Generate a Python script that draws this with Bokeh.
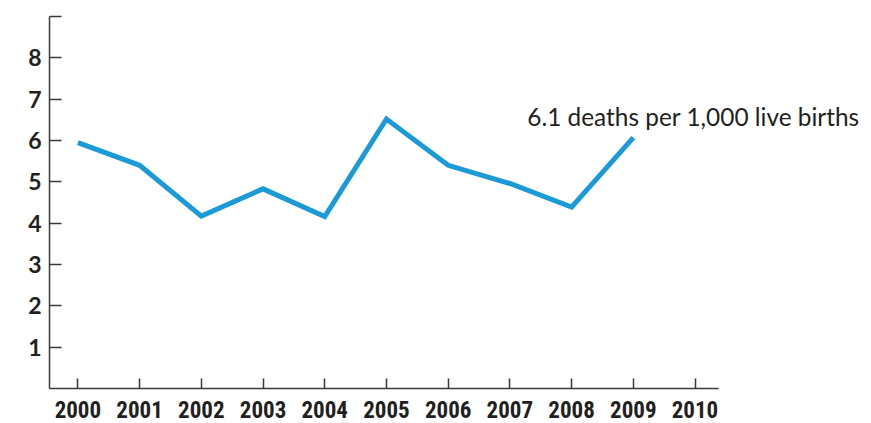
from bokeh.plotting import figure
from bokeh.models import Range1d, FixedTicker, Label
from bokeh.embed import file_html
from bokeh.resources import INLINE

years = [2000, 2001, 2002, 2003, 2004, 2005, 2006, 2007, 2008, 2009]
rates = [5.95, 5.40, 4.17, 4.83, 4.16, 6.52, 5.40, 4.96, 4.39, 6.07]
x_ticks = [2000, 2001, 2002, 2003, 2004, 2005, 2006, 2007, 2008, 2009, 2010]
y_ticks = [1, 2, 3, 4, 5, 6, 7, 8, 9]
note = "6.1 deaths per 1,000 live births"

p = figure(width=871, height=423, output_backend="svg", toolbar_location=None,
           x_range=Range1d(1999.54, 2012.86), y_range=Range1d(0, 9),
           min_border_left=49, min_border_right=0, min_border_top=16, min_border_bottom=35)
p.outline_line_color = None
p.xgrid.grid_line_color = None
p.ygrid.grid_line_color = None

p.line(years, rates, line_color="#1a9ad6", line_width=5, line_join="miter")

axis_color = "#3a3a3a"
text_color = "#231f20"

xa = p.xaxis[0]
xa.ticker = FixedTicker(ticks=x_ticks)
xa.bounds = (1999.54, 2010.38)
xa.axis_line_color = axis_color
xa.axis_line_width = 1.5
xa.major_tick_line_color = axis_color
xa.major_tick_line_width = 1.5
xa.major_tick_in = 10
xa.major_tick_out = 0
xa.minor_tick_line_color = None
xa.major_label_standoff = 12
xa.major_label_text_line_height = 0.8
xa.major_label_text_font = "Roboto Condensed, Liberation Sans Narrow, Roboto"
xa.major_label_text_font_style = "bold"
xa.major_label_text_font_size = "23px"
xa.major_label_text_color = text_color

ya = p.yaxis[0]
ya.ticker = FixedTicker(ticks=y_ticks)
ya.bounds = (0, 9)
ya.major_label_overrides = {9: ""}
ya.axis_line_color = axis_color
ya.axis_line_width = 1.5
ya.major_tick_line_color = axis_color
ya.major_tick_line_width = 1.5
ya.major_tick_in = 12
ya.major_tick_out = 0
ya.minor_tick_line_color = None
ya.major_label_standoff = 8
ya.major_label_text_font = "Lato"
ya.major_label_text_font_style = "bold"
ya.major_label_text_font_size = "23px"
ya.major_label_text_color = text_color

lbl = Label(x=years[-1], y=rates[-1], text=note, x_offset=-106, y_offset=21,
            text_font="Lato", text_font_size="24.4px", text_color=text_color,
            text_baseline="alphabetic", text_align="left")
p.add_layout(lbl)

open("out.html", "w").write(file_html(p, INLINE))
